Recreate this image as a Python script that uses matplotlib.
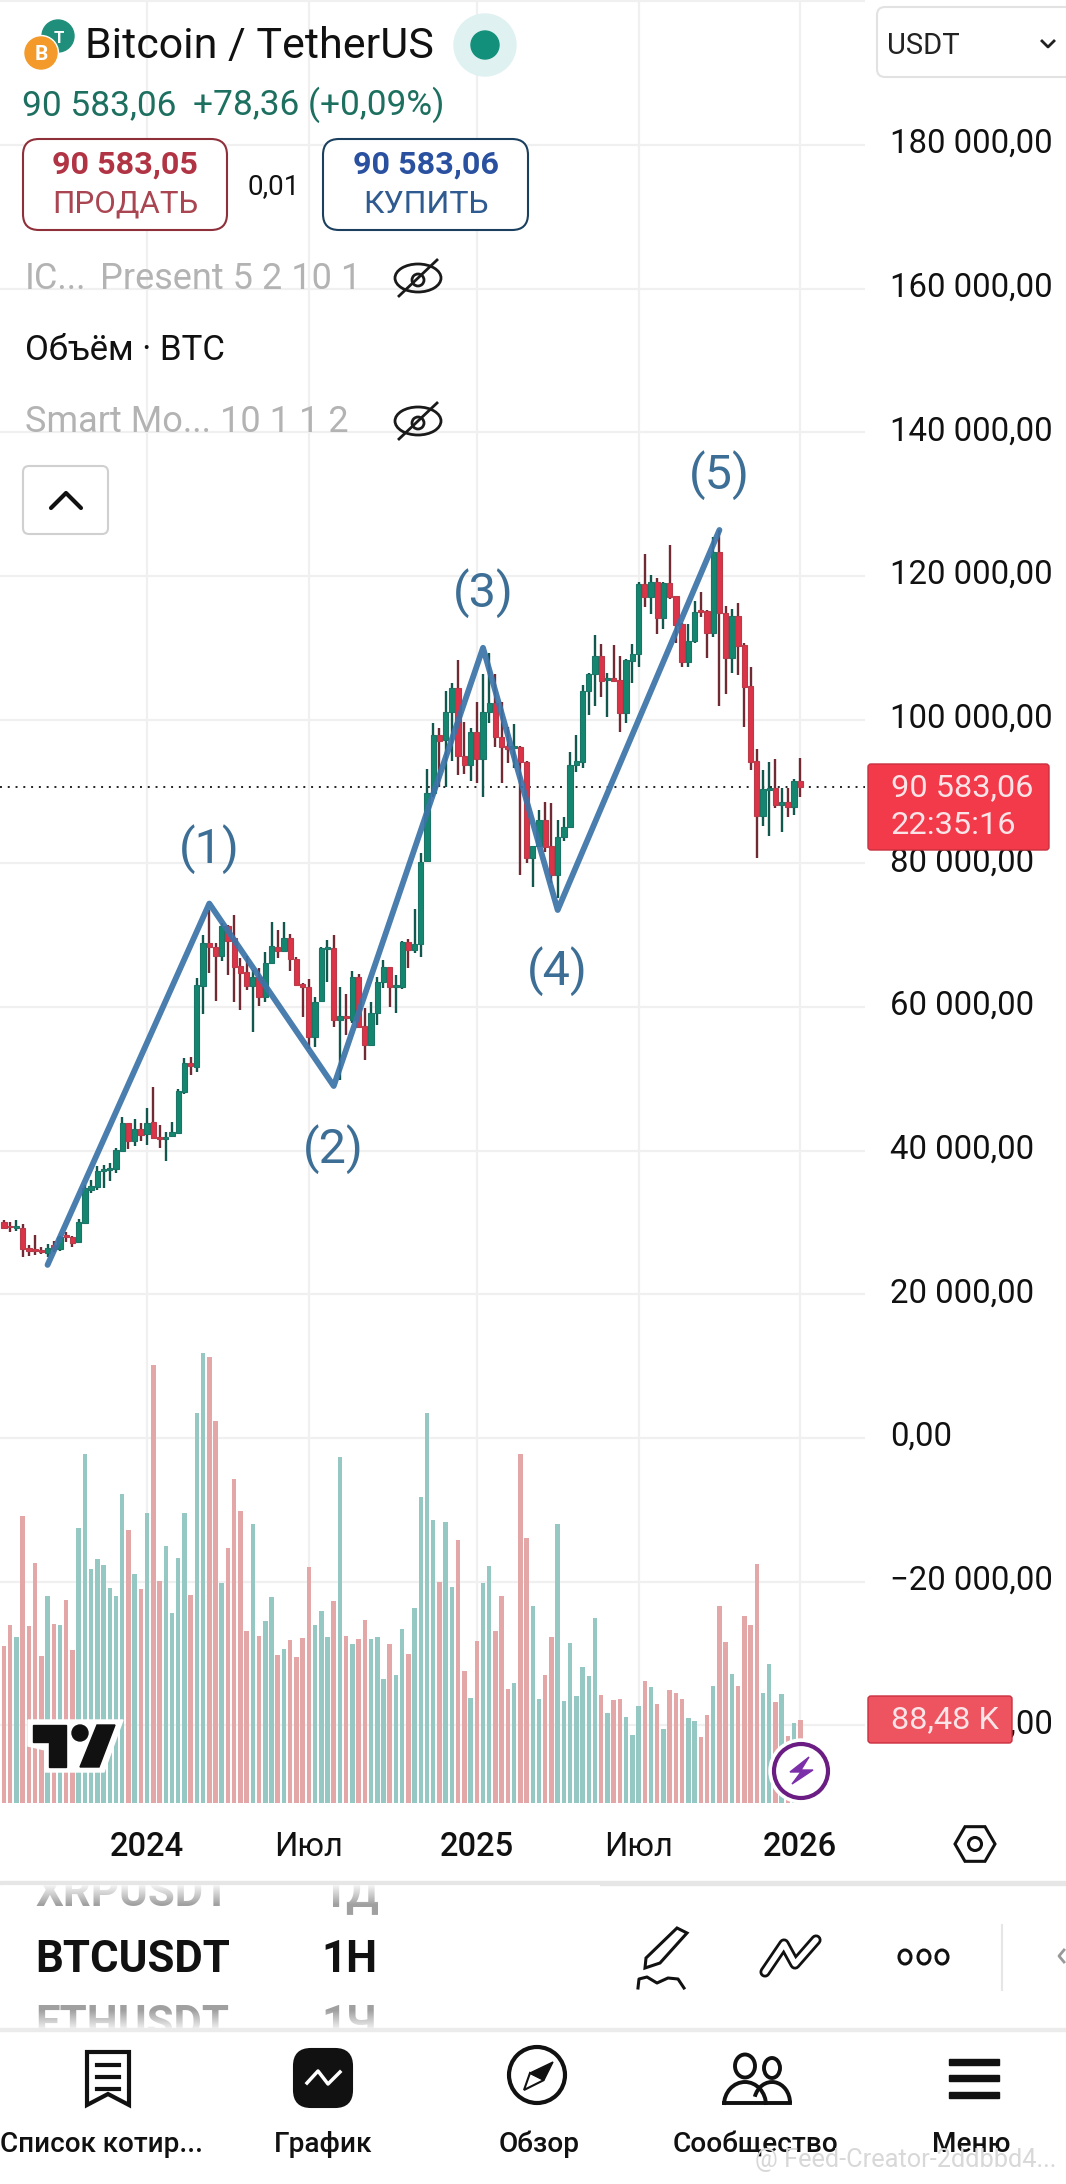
import numpy as np
import matplotlib
matplotlib.use("Agg")
import matplotlib.pyplot as plt
from matplotlib.patches import Circle, Ellipse, FancyBboxPatch, Polygon, Rectangle, Arc, RegularPolygon
from matplotlib.transforms import Bbox, TransformedBbox, ScaledTranslation

plt.rcParams['font.family'] = ['Roboto', 'DejaVu Sans']

# --------------------------------------------------
# BTCUSDT weekly candles, prices in thousands of USDT
# --------------------------------------------------
opens = [30.1,29.5,29.2,29.3,26.4,26.3,26.2,25.8,26.9,26.3,28.3,28.0,27.3,30.0,34.5,34.9,37.2,37.3,37.4,40.0,
         43.8,41.3,43.0,42.3,44.0,41.9,41.6,42.0,42.5,48.2,52.2,51.6,62.9,68.9,68.3,67.1,71.3,69.6,65.7,64.9,
         62.9,64.2,61.4,66.1,68.3,67.8,69.6,66.7,63.2,62.8,55.8,60.8,68.1,68.2,58.2,58.7,58.2,64.2,57.3,54.7,
         59.2,63.5,65.6,62.8,62.8,69.0,67.9,68.8,80.3,89.8,97.9,97.2,101.1,104.4,94.9,93.7,98.3,94.5,101.1,102.3,
         97.6,96.3,96.0,96.2,94.1,80.7,82.4,86.0,82.4,78.4,83.7,85.0,93.7,94.1,104.0,106.4,108.9,105.5,105.8,105.5,
         100.9,108.2,109.1,118.9,117.1,119.2,114.1,119.0,117.2,113.3,108.0,110.9,115.3,115.1,112.1,123.3,114.8,108.6,114.4,110.4,
         104.7,94.2,86.6,90.2,90.5,88.1,88.5,87.8,91.5]
highs = [30.3,30.1,30.3,29.8,26.9,28.3,26.6,27.0,27.4,28.1,28.7,28.1,30.5,35.2,35.9,37.9,38.0,38.3,40.4,44.7,
         43.9,44.4,43.8,45.9,48.9,43.6,42.6,44.0,48.6,52.9,53.0,64.0,70.0,73.5,68.9,71.7,71.4,72.8,66.8,67.1,
         65.1,65.4,67.6,71.8,70.7,71.8,70.2,66.9,63.3,63.9,61.4,68.4,69.3,70.0,62.8,61.8,65.0,64.6,59.9,60.7,
         64.2,66.5,65.6,64.4,69.2,69.5,73.6,81.4,93.1,99.5,98.8,104.0,105.1,108.3,99.7,98.8,102.5,106.3,109.3,106.3,
         102.5,99.0,99.4,96.3,94.2,82.4,87.4,88.5,88.4,86.0,86.4,95.5,97.9,104.8,106.5,111.8,110.5,106.5,110.4,108.9,
         108.4,110.5,119.2,123.0,120.1,119.7,119.1,124.3,117.2,113.4,113.3,116.5,117.8,115.3,125.4,126.4,115.8,115.4,116.2,110.7,
         107.3,95.9,93.0,94.1,94.5,90.5,90.5,91.7,94.7]
lows = [29.1,28.7,28.8,25.2,25.3,25.5,25.6,25.2,25.9,26.0,27.3,26.6,27.1,29.9,34.1,34.5,34.8,35.8,36.9,40.0,
        40.2,40.6,41.3,40.8,41.6,40.4,38.6,42.0,42.4,47.9,50.5,50.9,59.0,64.7,60.8,66.4,64.4,60.7,59.6,62.4,
        56.5,60.1,60.7,66.1,66.8,67.8,65.0,63.0,58.6,54.1,54.4,60.7,63.5,57.2,49.8,56.1,57.8,57.2,52.6,54.7,
        57.5,62.6,60.0,59.2,62.5,65.4,67.5,67.0,80.3,89.2,90.6,90.6,94.2,92.3,92.4,91.5,91.2,89.2,99.5,96.2,
        91.2,94.0,93.3,78.4,80.0,76.7,82.3,81.6,77.3,75.2,83.1,85.0,92.7,93.3,100.6,101.9,103.1,100.4,105.3,98.3,
        99.5,105.1,107.3,115.7,114.7,111.9,112.6,116.8,110.7,107.3,107.3,110.7,114.3,108.6,111.5,101.9,103.6,106.5,106.2,99.0,
        93.0,80.7,85.2,83.8,87.7,84.4,86.4,86.7,89.2]
closes = [29.2,29.4,29.5,26.3,26.0,26.0,25.9,26.4,26.3,28.0,28.0,27.1,30.1,34.8,35.1,37.2,37.4,37.6,40.1,43.8,
          41.3,43.0,42.2,43.8,41.8,41.6,41.9,42.6,48.3,52.2,51.8,63.1,68.9,68.3,67.1,71.3,69.2,65.6,64.7,62.9,
          64.2,61.4,66.1,68.5,67.8,69.6,66.7,63.1,62.8,55.8,60.7,68.2,68.3,58.2,58.8,58.4,64.2,57.2,54.7,59.2,
          63.5,65.6,62.8,63.0,69.0,67.9,68.8,80.2,89.8,97.9,97.0,101.1,104.4,94.9,93.7,98.3,94.5,101.1,102.3,97.6,
          96.2,95.9,96.3,94.1,80.7,82.4,86.0,82.3,78.4,83.7,85.0,93.7,94.2,104.0,106.4,108.9,105.4,105.8,105.4,100.9,
          108.3,109.1,118.9,117.1,119.2,114.1,119.0,117.1,113.2,108.0,110.9,115.0,115.0,112.1,123.3,114.8,108.6,114.4,110.2,104.5,
          94.1,86.6,90.3,90.5,88.1,88.5,87.8,91.5,90.58]
# volume in thousands of BTC
volumes = [168,190,178,307,189,257,157,221,191,190,217,164,294,373,250,261,255,230,222,331,
           292,245,229,310,469,238,275,203,262,310,223,417,481,477,409,235,273,347,312,184,
           298,179,195,220,158,165,174,156,177,252,190,205,178,216,370,179,170,176,196,176,
           178,133,170,137,186,159,209,327,417,303,237,301,231,281,141,112,173,235,254,184,
           221,122,128,373,284,211,111,137,178,299,109,171,114,146,136,198,116,96,110,111,
           92,73,104,131,124,106,79,121,118,111,91,88,71,94,125,211,172,138,125,200,
           190,256,118,149,108,117,72,86,88.48]

# Elliott wave drawn by hand on the chart: bar number, price
wave_bars = [8, 34, 54, 78, 90, 116]
wave_prices = [24.1, 74.4, 49.0, 110.0, 73.5, 126.4]
wave_labels = ["(1)", "(2)", "(3)", "(4)", "(5)"]
wave_label_offsets = [54, -63, 55, -61, 55]

price_ticks = [-40, -20, 0, 20, 40, 60, 80, 100, 120, 140, 160, 180, 200]
price_labels = ["−40 000,00", "−20 000,00", "0,00", "20 000,00", "40 000,00", "60 000,00", "80 000,00",
                "100 000,00", "120 000,00", "140 000,00", "160 000,00", "180 000,00", ""]
time_ticks = [24, 50, 77, 103, 129]
time_labels = ["2024", "Июл", "2025", "Июл", "2026"]
last_price = 90.583

GREEN = "#14866F"
RED = "#DB3347"
WICK_GREEN = "#12574D"
WICK_RED = "#6F2A34"
VOL_GREEN = "#95C8C3"
VOL_RED = "#E4A7A7"
GRID = "#F0F0F0"

W, H = 1066, 2184
fig = plt.figure(figsize=(W / 100, H / 100), dpi=100, facecolor="white")

# Price pane, 1 bar = 6.22 px, 1000 USDT = 7.18 px
pane_w, pane_bottom = 865, 1803
ax = fig.add_axes([0, 1 - pane_bottom / H, pane_w / W, pane_bottom / H])
bars = np.arange(1, len(opens) + 1)
opens, highs, lows, closes = map(np.array, (opens, highs, lows, closes))
up = closes >= opens

ax.vlines(bars[up], lows[up], highs[up], color=WICK_GREEN, lw=1.7, zorder=3)
ax.vlines(bars[~up], lows[~up], highs[~up], color=WICK_RED, lw=1.7, zorder=3)
ax.bar(bars, closes - opens, bottom=opens, width=0.85, color=np.where(up, GREEN, RED),
       edgecolor=np.where(up, "#1B7466", "#B93A48"), lw=0.8, zorder=4)
ax.plot(wave_bars, wave_prices, color="#3B74A8", lw=4.2, alpha=0.93, solid_joinstyle="round",
        solid_capstyle="round", zorder=5)
for i, lab in enumerate(wave_labels):
    ax.annotate(lab, (wave_bars[i + 1], wave_prices[i + 1]), xytext=(0, wave_label_offsets[i]),
                textcoords="offset pixels", ha="center", va="center", fontsize=35, color="#3D6F96",
                zorder=6)
ax.axhline(last_price, color="#222222", lw=1.4, ls=(0, (1, 3)), zorder=2)

ax.set_xlim(0.357, 139.4)
ax.set_ylim(-50.8, 200.17)
ax.set_xticks(time_ticks, time_labels)
ax.set_yticks(price_ticks, price_labels)
ax.tick_params(axis="x", length=0, pad=20, labelsize=23.5, labelcolor="#111111")
for lab in ax.get_xticklabels():
    if lab.get_text().isdigit():
        lab.set_fontweight("medium")
ax.grid(True, color=GRID, lw=1.6, zorder=0)
ax.set_axisbelow(True)
for s in ax.spines.values():
    s.set_visible(False)

# Volume pane shares the bottom of the price pane
vol = ax.twinx()
vol.bar(bars, volumes, width=0.72, color=np.where(up, VOL_GREEN, VOL_RED), zorder=2)
vol.set_ylim(0, pane_bottom * 1.07)
vol.axis("off")

# twinx moves the price ticks back to the left
ax.yaxis.tick_right()
ax.tick_params(axis="y", length=0, pad=18, labelsize=23.7, labelcolor="#111111")
# labels sit a little above their grid lines
label_shift = ScaledTranslation(0, 4.5 / 100, fig.dpi_scale_trans)
for lab in ax.get_yticklabels():
    lab.set_transform(lab.get_transform() + label_shift)

# App UI drawn on top in pixel coordinates
ui = fig.add_axes([0, 0, 1, 1], facecolor="none")
ui.set_xlim(0, W)
ui.set_ylim(H, 0)
ui.axis("off")


def label(x, y, s, size, color="#111111", **kw):
    kw.setdefault("va", "baseline")
    return ui.text(x, y, s, fontsize=size, color=color, **kw)


def round_box(x0, y0, x1, y1, r, edge, face="white", lw=1.5, z=1.5):
    ui.add_patch(FancyBboxPatch((x0, y0), x1 - x0, y1 - y0, boxstyle=f"round,pad=0,rounding_size={r}",
                                edgecolor=edge, facecolor=face, lw=lw, zorder=z))


def eye(cx, cy):
    ui.add_patch(Ellipse((cx, cy), 46, 28, fill=False, ec="#1A1A1A", lw=2))
    ui.add_patch(Circle((cx, cy + 2), 6, fill=False, ec="#1A1A1A", lw=2))
    ui.plot([cx - 19, cx + 19], [cy + 18, cy - 18], color="#1A1A1A", lw=2)


# header
ui.add_patch(Circle((58, 36), 16, color="#1F8F7C"))
ui.add_patch(Circle((41, 53), 17.5, color="white"))
ui.add_patch(Circle((41, 53), 16, color="#F39A2A"))
label(41, 60, "B", 15, "white", ha="center", fontweight="bold")
label(59, 43, "T", 12, "white", ha="center", fontweight="bold")
label(85, 58, "Bitcoin / TetherUS", 31)
ui.add_patch(Circle((485, 45), 31, color="#DFF1F1"))
ui.add_patch(Circle((485, 45), 14, color="#12907B"))
label(22, 115, "90 583,06", 25.4, "#1D6F60")
label(193, 115, "+78,36 (+0,09%)", 25.4, "#1D6F60")

round_box(23, 139, 227, 230, 16, "#8E2F3A")
label(125, 174, "90 583,05", 23.3, "#B13444", ha="center", fontweight="bold")
label(125, 213, "ПРОДАТЬ", 22.6, "#AA4552", ha="center")
label(274, 194, "0,01", 20, ha="center")
round_box(323, 139, 528, 230, 16, "#1B3F5E")
label(426, 174, "90 583,06", 23.3, "#2A50A0", ha="center", fontweight="bold")
label(426, 213, "КУПИТЬ", 23, "#2F5B90", ha="center")

label(25, 289, "IC...", 26, "#B3B3B3")
label(100, 289, "Present 5 2 10 1", 26, "#B3B3B3")
eye(418, 278)
label(25, 360, "Объём · BTC", 25, "#111111")
label(25, 432, "Smart Mo... 10 1 1 2", 26, "#B3B3B3")
eye(418, 421)
round_box(23, 466, 108, 534, 6, "#D0D0D0")
ui.plot([51, 66, 81], [508, 493, 508], color="#111111", lw=3, solid_capstyle="round")

round_box(877, 7, 1080, 77, 8, "#E2E2E2")
label(887, 54, "USDT", 21, "#222222")
ui.plot([1042, 1048, 1054], [41, 47, 41], color="#222222", lw=2)

# price and volume tags
round_box(868, 764, 1049, 850, 3, "#C9303F", "#F23A4B", lw=1)
label(891, 796, "90 583,06", 23.4, "#FBE4E7")
label(891, 834, "22:35:16", 23.4, "#FBE4E7")
round_box(868, 1696, 1012, 1743, 3, "#C9303F", "#EE5460", lw=1)
label(891, 1728, "88,48 K", 23.4, "#FBE4E7")

# tradingview logo
ui.add_patch(Polygon([(28, 1720), (123, 1720), (104, 1772), (45, 1772), (45, 1750), (28, 1746)], color="white", zorder=3))
ui.add_patch(Polygon([(33, 1725), (66, 1725), (66, 1767), (49, 1767), (49, 1742), (33, 1742)], color="#111111", zorder=4))
ui.add_patch(Circle((80, 1733), 8, color="#111111", zorder=4))
ui.add_patch(Polygon([(97, 1725), (115, 1725), (99, 1767), (80, 1767)], color="#111111", zorder=4))

# purple bolt button
ui.add_patch(Circle((801, 1771), 32, color="white", zorder=3))
ui.add_patch(Circle((801, 1771), 27, fc="white", ec="#6B1D84", lw=3, zorder=4))
ui.add_patch(Polygon([(809, 1757), (790, 1772), (801, 1772), (792, 1784), (813, 1770), (801, 1770)], color="#7B2FA8", zorder=5))

# bottom toolbar
ui.add_patch(RegularPolygon((975, 1844), 6, radius=20, orientation=np.pi / 6, fill=False, ec="#111111", lw=2.2))
ui.add_patch(Circle((975, 1844), 6.5, fill=False, ec="#111111", lw=2.2))
ui.add_patch(Rectangle((0, 1881), W, 4, color="#E6E6E6"))

label(35, 1972, "BTCUSDT", 31.5, "#111111", fontweight="bold")
label(321, 1972, "1H", 31.5, "#111111", fontweight="bold")
rows = [(35, 1906, "XRPUSDT"), (321, 1906, "1Д"), (35, 2037, "ETHUSDT"), (321, 2037, "1Ч")]
row_clip = TransformedBbox(Bbox([[0, 1885], [600, 2030]]), ui.transData)
for x, y, s in rows:
    t = label(x, y, s, 31.5, "#A0A0A0", fontweight="bold")
    t.set_clip_box(row_clip)
    t.set_clip_on(True)
# the scroll wheel rows fade out towards the panel edges
fade = np.ones((32, 2, 4))
fade[:, :, 3] = np.linspace(0.9, 0, 32)[:, None]
ui.imshow(fade, extent=(0, 600, 1905, 1885), aspect="auto", zorder=4)
ui.imshow(fade[::-1], extent=(0, 600, 2030, 2010), aspect="auto", zorder=4)
ui.set_xlim(0, W)
ui.set_ylim(H, 0)
ui.add_patch(Rectangle((0, 2028), W, 3, color="#EBEBEB", zorder=4))

# pencil tool
ui.add_patch(Polygon([(645, 1968), (646, 1958), (677, 1928), (687, 1933), (660, 1963)], fill=False, ec="#111111", lw=2.2))
ui.plot([638, 639, 647, 657, 668, 678, 684], [1988, 1979, 1977, 1983, 1978, 1979, 1988], color="#111111", lw=2.2)
# line tool
tool_x, tool_y = [765, 784, 795, 816], [1972, 1944, 1964, 1940]
ui.plot(tool_x, tool_y, color="#111111", lw=8, solid_capstyle="round", solid_joinstyle="round")
ui.plot(tool_x, tool_y, color="white", lw=4, solid_capstyle="round", solid_joinstyle="round")
for cx in [905, 924, 942]:
    ui.add_patch(Ellipse((cx, 1957), 12, 14, fill=False, ec="#111111", lw=2.2))
ui.plot([1002, 1002], [1925, 1990], color="#E6E6E6", lw=1.5)
ui.plot([1064, 1059, 1064], [1950, 1956, 1962], color="#999999", lw=2)

# tab bar
ui.add_patch(Polygon([(87, 2052), (129, 2052), (129, 2105), (108, 2094), (87, 2105)], fill=False, ec="#111111", lw=3))
for y in [2065, 2077, 2089]:
    ui.plot([97, 119], [y, y], color="#111111", lw=3)
round_box(294, 2049, 352, 2107, 17, "#111111", "#111111")
ui.plot([307, 318, 328, 340], [2083, 2071, 2084, 2072], color="white", lw=2.5)
ui.add_patch(Circle((537, 2075), 28, fill=False, ec="#111111", lw=3))
ui.add_patch(Polygon([(553, 2062), (544, 2080), (530, 2073)], color="#111111"))
ui.add_patch(Polygon([(524, 2090), (530, 2073), (544, 2080)], fill=False, ec="#111111", lw=1.5))
ui.add_patch(Ellipse((745, 2066), 20, 23, fill=False, ec="#111111", lw=2.8))
ui.add_patch(Ellipse((772, 2068), 16, 20, fill=False, ec="#111111", lw=2.8))
ui.add_patch(Arc((745, 2105), 42, 46, theta1=180, theta2=360, ec="#111111", lw=2.8))
ui.add_patch(Arc((772, 2103), 36, 42, theta1=200, theta2=360, ec="#111111", lw=2.8))
ui.plot([724, 790], [2103, 2103], color="#111111", lw=2.8)
for y in [2062, 2078, 2095]:
    ui.add_patch(Rectangle((949, y - 3), 50, 6, color="#111111"))

tab_labels = ["График", "Обзор", "Сообщество", "Меню"]
tab_x = [323, 539, 755, 971]
label(0, 2152, "Список котир...", 20, fontweight="medium")
for x, s in zip(tab_x, tab_labels):
    label(x, 2152, s, 20.2, ha="center", fontweight="medium")

# watermark
label(755, 2167, "@ Feed-Creator-2ddbbd4...", 18.3, "#D8D8D8", zorder=6)

fig.savefig("out.png", dpi=100)
